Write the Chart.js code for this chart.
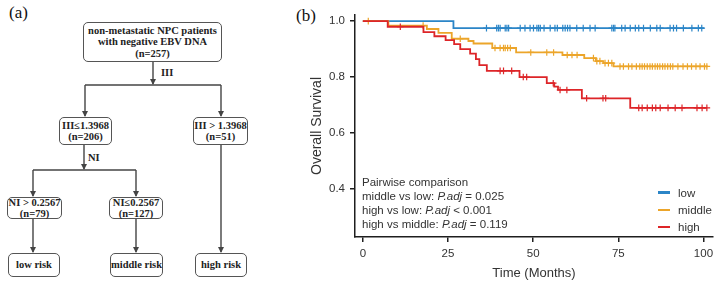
<!DOCTYPE html>
<html>
<head>
<meta charset="utf-8">
<script src="https://cdn.jsdelivr.net/npm/chart.js@4.4.1/dist/chart.umd.min.js"></script>
<style>
  html, body { margin: 0; padding: 0; background: #fff; }
  #page { position: relative; width: 720px; height: 285px; overflow: hidden; background: #fff; }
  .box { position: absolute; box-sizing: border-box; border: 1.5px solid #555; border-radius: 5px;
         display: flex; flex-direction: column; align-items: center; justify-content: center;
         font-family: "Liberation Serif", "Times New Roman", serif; font-weight: bold; font-size: 10.5px;
         line-height: 11.5px; color: #222; text-align: center; white-space: nowrap; background: #fff; }
  .lbl { position: absolute; font-family: "Liberation Serif", "Times New Roman", serif; font-weight: bold;
         font-size: 10.5px; color: #222; line-height: 12px; }
  .panel { position: absolute; font-family: "Liberation Serif", "Times New Roman", serif; font-size: 17px; color: #111; line-height: 20px; }
  #chartWrap { position: absolute; left: 290px; top: 0; width: 430px; height: 285px; }
  #annot { position: absolute; left: 362px; top: 175px; font-family: "Liberation Sans", Arial, sans-serif;
           font-size: 11.5px; line-height: 14px; color: #333; white-space: nowrap; }
  #legend { position: absolute; left: 658px; top: 184px; font-family: "Liberation Sans", Arial, sans-serif;
            font-size: 11.5px; color: #333; }
  #legend .item { display: flex; align-items: center; height: 17.3px; }
  #legend .sw { width: 12px; height: 2.5px; margin-right: 8px; }
</style>
</head>
<body>
<div id="page">
  <!-- (a) flowchart -->
  <div class="panel" style="left:9px; top:3px;">(a)</div>
  <svg width="290" height="285" style="position:absolute;left:0;top:0;">
    <defs>
      <marker id="ah" markerWidth="6" markerHeight="6" refX="5" refY="3" orient="auto" markerUnits="userSpaceOnUse">
        <path d="M0,0 L6,3 L0,6 z" fill="#444"/>
      </marker>
    </defs>
    <g stroke="#444" stroke-width="1.4" fill="none">
      <line x1="153" y1="62" x2="153" y2="84" marker-end="url(#ah)"/>
      <line x1="85" y1="85" x2="221" y2="85"/>
      <line x1="85" y1="85" x2="85" y2="116" marker-end="url(#ah)"/>
      <line x1="221" y1="85" x2="221" y2="116" marker-end="url(#ah)"/>
      <line x1="84" y1="145" x2="84" y2="169" marker-end="url(#ah)"/>
      <line x1="33" y1="170" x2="136" y2="170"/>
      <line x1="33" y1="170" x2="33" y2="196" marker-end="url(#ah)"/>
      <line x1="136" y1="170" x2="136" y2="196" marker-end="url(#ah)"/>
      <line x1="33" y1="219" x2="33" y2="252" marker-end="url(#ah)"/>
      <line x1="136" y1="219" x2="136" y2="252" marker-end="url(#ah)"/>
      <line x1="221" y1="145" x2="221" y2="252" marker-end="url(#ah)"/>
    </g>
  </svg>
  <div class="box" style="left:83px; top:22px; width:139px; height:40px;">
    <div>non-metastatic NPC patients</div><div>with negative EBV DNA</div><div>(n=257)</div>
  </div>
  <div class="lbl" style="left:161px; top:67px;">III</div>
  <div class="box" style="left:59px; top:117px; width:53px; height:28px;">
    <div>III≤1.3968</div><div>(n=206)</div>
  </div>
  <div class="box" style="left:193px; top:117px; width:55px; height:28px;">
    <div>III &gt; 1.3968</div><div>(n=51)</div>
  </div>
  <div class="lbl" style="left:88px; top:152px;">NI</div>
  <div class="box" style="left:7px; top:197px; width:55px; height:22px;">
    <div>NI &gt; 0.2567</div><div>(n=79)</div>
  </div>
  <div class="box" style="left:109px; top:197px; width:54px; height:22px;">
    <div>NI≤0.2567</div><div>(n=127)</div>
  </div>
  <div class="box" style="left:8px; top:253px; width:52px; height:24px;"><div>low risk</div></div>
  <div class="box" style="left:110px; top:253px; width:53px; height:24px;"><div>middle risk</div></div>
  <div class="box" style="left:195px; top:253px; width:52px; height:24px;"><div>high risk</div></div>

  <!-- (b) KM chart -->
  <div class="panel" style="left:296px; top:6px;">(b)</div>
  <div id="chartWrap"><canvas id="km"></canvas></div>
  <div id="annot">
    <div>Pairwise comparison</div>
    <div>middle vs low: <i>P.adj</i> = 0.025</div>
    <div>high vs low: <i>P.adj</i> &lt; 0.001</div>
    <div>high vs middle: <i>P.adj</i> = 0.119</div>
  </div>
  <div id="legend"></div>
</div>
<script>
// ---- data ----
const groupNames = ['low', 'middle', 'high'];
const groupColors = ['#2b85c7', '#eca52a', '#dd2528'];

const lowTimes = [0, 26.6, 100.2];
const lowSurv  = [1.0, 0.975, 0.975];
const lowCensor = [36.3, 39.3, 39.8, 40.3, 41.8, 42.3, 42.8, 46.2, 47.6, 49.1, 50.1, 51.1, 51.6, 52.1, 53.2,
  55.0, 56.4, 57.1, 58.7, 59.4, 60.1, 60.8, 62.8, 64.7, 66.7, 68.2, 73.1, 73.6, 74.0, 76.0, 77.0, 78.5,
  80.0, 81.0, 82.4, 84.4, 86.3, 87.3, 90.2, 91.2, 92.1, 94.1, 96.6, 98.5, 99.5];

const midTimes = [0, 7.5, 18.8, 22.2, 26.1, 31.0, 32.5, 38.0, 45.0, 58.6, 65.0, 68.4, 70.6, 73.6, 101.2];
const midSurv  = [1.0, 0.984, 0.972, 0.958, 0.937, 0.929, 0.920, 0.904, 0.888, 0.879, 0.868, 0.857, 0.850, 0.838, 0.838];
const midCensor = [1.6, 17.7, 28.6, 38.8, 40.3, 41.3, 41.8, 42.5, 43.3, 49.3, 54.0, 56.0, 60.0, 61.4, 62.9,
  67.7, 68.7, 69.6, 71.1, 72.1, 73.1, 75.5, 76.5, 78.0, 79.0, 80.3, 81.3, 82.0, 82.7, 83.5, 84.3, 85.0,
  85.8, 86.5, 87.2, 88.0, 88.7, 89.5, 90.3, 91.0, 92.5, 94.0, 95.3, 96.5, 97.8, 99.0, 100.3, 101.0];

const highTimes = [0, 7.3, 17.8, 21.0, 24.3, 26.8, 28.6, 31.5, 33.2, 34.2, 36.4, 46.0, 54.0, 56.2, 57.3, 64.3, 78.5, 101.0];
const highSurv  = [1.0, 0.980, 0.961, 0.946, 0.932, 0.918, 0.900, 0.884, 0.864, 0.843, 0.822, 0.800, 0.778, 0.766, 0.754, 0.724, 0.690, 0.690];
const highCensor = [11.0, 40.3, 41.3, 43.7, 47.1, 48.1, 55.9, 57.9, 59.9, 65.7, 70.5, 71.3, 81.0, 82.0, 83.5,
  85.0, 86.0, 87.3, 89.6, 91.7, 93.7, 98.1, 99.6, 101.0];

const xTicks = [0, 25, 50, 75, 100];
const xTickLabels = ['0', '25', '50', '75', '100'];
const yTicks = [0.4, 0.6, 0.8, 1.0];
const yTickLabels = ['0.4', '0.6', '0.8', '1.0'];
const xTitle = 'Time (Months)';
const yTitle = 'Overall Survival';

// ---- build datasets ----
function survAt(times, surv, t) {
  let v = surv[0];
  for (let i = 0; i < times.length; i++) { if (times[i] <= t) v = surv[i]; }
  return v;
}
const groups = [
  { times: lowTimes, surv: lowSurv, cens: lowCensor },
  { times: midTimes, surv: midSurv, cens: midCensor },
  { times: highTimes, surv: highSurv, cens: highCensor }
];
const drawOrder = [2, 1, 0]; // high drawn on top
const datasets = [];
groups.forEach((g, i) => {
  datasets.push({
    label: groupNames[i],
    data: g.times.map((t, k) => ({ x: t, y: g.surv[k] })),
    borderColor: groupColors[i], backgroundColor: groupColors[i],
    borderWidth: 1.8, stepped: 'before', pointRadius: 0, fill: false, order: drawOrder[i] * 2 + 1
  });
});
groups.forEach((g, i) => {
  datasets.push({
    label: '',
    data: g.cens.map(t => ({ x: t, y: survAt(g.times, g.surv, t) })),
    showLine: false, pointStyle: 'cross', pointRadius: 3.3, pointBorderWidth: 1.2,
    borderColor: groupColors[i], backgroundColor: groupColors[i], order: drawOrder[i] * 2
  });
});

const tickFont = { family: '"Liberation Sans", Arial, sans-serif', size: 11.5 };
const axisColor = '#1e1e1e';

new Chart(document.getElementById('km'), {
  type: 'line',
  data: { datasets },
  options: {
    responsive: true, maintainAspectRatio: false, animation: false,
    layout: { padding: { top: 15, right: 7, left: 0, bottom: 0 } },
    plugins: { legend: { display: false }, tooltip: { enabled: false } },
    scales: {
      x: {
        type: 'linear', min: -2.3, max: 102.8,
        afterBuildTicks(s) { s.ticks = xTicks.map(v => ({ value: v })); },
        afterFit(s) { s.height = 48; s.paddingLeft = 0; s.paddingRight = 0; },
        ticks: { color: '#333', font: tickFont, padding: 5, maxRotation: 0,
                 callback: (v) => xTickLabels[xTicks.indexOf(v)] },
        grid: { display: true, drawOnChartArea: false, drawTicks: true, tickLength: 5, color: axisColor, lineWidth: 1.5 },
        border: { display: true, color: axisColor, width: 1.5 },
        title: { display: true, text: xTitle, color: '#333',
                 font: { family: '"Liberation Sans", Arial, sans-serif', size: 13 }, padding: { top: 0, bottom: 4 } }
      },
      y: {
        type: 'linear', min: 0.228, max: 1.022,
        afterBuildTicks(s) { s.ticks = yTicks.map(v => ({ value: v })); },
        afterFit(s) { s.width = 65; s.paddingTop = 0; s.paddingBottom = 0; },
        ticks: { color: '#333', font: tickFont, padding: 5,
                 callback: (v) => yTickLabels[yTicks.indexOf(v)] },
        grid: { display: true, drawOnChartArea: false, drawTicks: true, tickLength: 5, color: axisColor, lineWidth: 1.5 },
        border: { display: true, color: axisColor, width: 1.5 },
        title: { display: true, text: yTitle, color: '#333',
                 font: { family: '"Liberation Sans", Arial, sans-serif', size: 14 }, padding: { top: 19, bottom: 0 } }
      }
    }
  }
});

// ---- legend (HTML) ----
const legendEl = document.getElementById('legend');
groupNames.forEach((n, i) => {
  const it = document.createElement('div');
  it.className = 'item';
  it.innerHTML = '<span class="sw" style="background:' + groupColors[i] + '"></span><span>' + n + '</span>';
  legendEl.appendChild(it);
});
</script>
</body>
</html>
